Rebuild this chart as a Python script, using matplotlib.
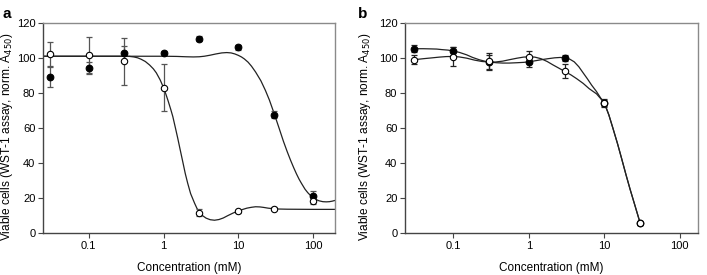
import numpy as np
import matplotlib as mpl
mpl.use('Agg')
import matplotlib.pyplot as plt

plt.rcParams['font.family'] = ['Liberation Sans', 'DejaVu Sans']

# concentrations (mM)
conc_a = [0.03, 0.1, 0.3, 1, 3, 10, 30, 100]
conc_b = [0.03, 0.1, 0.3, 1, 3, 10, 30]

# panel a, measured points
a_closed = [89.3, 94.5, 103, 103, 111, 106, 67.5, 21]
a_closed_err = [6, 3, 4, 1, 1.5, 1.5, 2, 3]
a_open = [102, 101.5, 98, 83, 11.5, 12.5, 14, 18.5]
a_open_err = [7, 10.5, 13.5, 13.5, 2, 0.8, 0.8, 2]

# panel a, fitted curves
a_closed_fit_x = [0.025, 1, 1.5, 2, 2.5, 3, 3.5, 4.2, 5, 6, 7, 8, 9, 10, 11, 12,
                  13.5, 15, 17, 20, 23, 26, 30, 35, 40, 45, 50, 55, 60, 65, 70,
                  78, 85, 92, 100, 110, 120, 135, 150, 165, 180, 200]
a_closed_fit_y = [101, 101, 100.9, 100.7, 100.6, 100.7, 101, 101.6, 102.3, 102.9,
                  103.1, 102.9, 102.3, 101.5, 100.6, 99.5, 97.6, 95.3, 92, 87,
                  81.5, 76, 68.5, 60, 52.5, 46.5, 41.5, 37.3, 33.7, 30.7, 28.3,
                  25, 23, 21.5, 20.3, 19.1, 18.4, 17.9, 17.8, 17.9, 18.2, 18.7]
a_open_fit_x = [0.025, 0.1, 0.2, 0.3, 0.35, 0.4, 0.45, 0.5, 0.57, 0.65, 0.73, 0.8,
                0.9, 1.0, 1.08, 1.15, 1.25, 1.33, 1.45, 1.55, 1.65, 1.8, 1.95,
                2.1, 2.3, 2.6, 2.8, 3.0, 3.3, 3.7, 4.2, 4.8, 5.5, 6.3, 7.2, 8.5,
                10, 11.5, 13, 15, 17, 19.5, 22, 25, 29, 35, 45, 100, 200]
a_open_fit_y = [101, 101, 101, 101, 100.9, 100.6, 100.1, 99.3, 98, 96, 93.8, 91.5,
                87.5, 83, 79, 75.5, 70.5, 66.5, 59.5, 54, 48.5, 41, 34, 28.5,
                22.5, 17, 14, 12.2, 10, 8.5, 7.6, 7.3, 7.7, 8.6, 9.9, 11.4, 12.6,
                13.5, 14.2, 14.7, 15, 14.9, 14.6, 14.2, 13.9, 13.7, 13.6, 13.5,
                13.5]

# panel b, measured points
b_closed = [105.3, 104, 97.5, 97.8, 100, 74.5, 5.5]
b_closed_err = [2, 2.5, 4, 3, 1.5, 2, 1]
b_open = [99, 100.8, 98, 100.8, 92.3, 74, 5.5]
b_open_err = [2.5, 5.5, 5, 3, 4, 2, 1]

# panel b, fitted curves
b_closed_fit_x = [0.03, 0.04, 0.05, 0.06, 0.07, 0.085, 0.1, 0.12, 0.15, 0.18,
                  0.22, 0.27, 0.3, 0.37, 0.45, 0.55, 0.7, 0.85, 1, 1.25, 1.5,
                  1.8, 2.2, 2.6, 3, 3.5, 4, 4.6, 5.25, 6, 6.8, 7.9, 9, 10, 11.5,
                  13, 15, 17, 19.5, 22, 25, 30]
b_closed_fit_y = [105.3, 105.3, 105.2, 105.1, 104.8, 104.5, 104, 103.2, 101.8,
                  100.3, 99, 98, 97.7, 97.3, 97.1, 97.1, 97.3, 97.5, 97.8, 98.5,
                  99.1, 99.6, 100.1, 100.3, 100.2, 99.3, 97.8, 95, 91.5, 88,
                  84.5, 80.8, 77, 74.5, 67.5, 60, 51, 42.5, 33, 25, 17, 5.5]
b_open_fit_x = [0.03, 0.04, 0.05, 0.065, 0.08, 0.1, 0.12, 0.15, 0.19, 0.24, 0.3,
                0.36, 0.45, 0.55, 0.7, 0.85, 1, 1.2, 1.45, 1.75, 2.1, 2.5, 3,
                3.6, 4.3, 5.25, 6.3, 7.9, 9, 10, 11.5, 13, 15, 17, 19.5, 22, 25,
                30]
b_open_fit_y = [99, 99.6, 100, 100.5, 100.8, 100.9, 100.6, 99.9, 98.8, 98, 97.7,
                97.7, 98.2, 99, 99.9, 100.5, 100.7, 100.5, 99.6, 98, 96, 94.2,
                92.3, 90.4, 88.2, 85.5, 82.5, 79.5, 76.7, 74.3, 67.5, 60, 51,
                42.5, 33, 25, 17, 5.5]

ylabel = 'Viable cells (WST-1 assay, norm. A$_{450}$)'


def style_axes(ax, xlim, ylab_x):
    ax.set_xscale('log')
    ax.set_xlim(*xlim)
    ax.set_ylim(0, 120)
    ax.set_yticks([0, 20, 40, 60, 80, 100, 120])
    ax.set_xticks([0.1, 1, 10, 100])
    ax.set_xticklabels(['0.1', '1', '10', '100'])
    ax.xaxis.set_minor_locator(mpl.ticker.NullLocator())
    ax.tick_params(axis='both', labelsize=8, length=3.5, width=0.8,
                   color='#444444', pad=2)
    for s in ['left', 'bottom']:
        ax.spines[s].set_color('#444444')
        ax.spines[s].set_linewidth(1.0)
    for s in ['top', 'right']:
        ax.spines[s].set_color('#8a8a8a')
        ax.spines[s].set_linewidth(1.0)
    ax.set_xlabel('Concentration (mM)', fontsize=8.5, labelpad=8)
    ax.set_ylabel(ylabel, fontsize=8.6)
    ax.yaxis.set_label_coords(ylab_x, 0.46)


def draw(ax, x, yc, ec, yo, eo, fxc, fyc, fxo, fyo, ecol):
    ax.plot(fxc, fyc, '-', color='#222222', linewidth=0.9, zorder=2)
    ax.plot(fxo, fyo, '-', color='#222222', linewidth=0.9, zorder=2)
    ax.errorbar(x, yc, yerr=ec, fmt='none', ecolor=ecol, elinewidth=0.9,
                capsize=2.5, capthick=0.9, zorder=3)
    ax.errorbar(x, yo, yerr=eo, fmt='none', ecolor=ecol, elinewidth=0.9,
                capsize=2.5, capthick=0.9, zorder=3)
    ax.plot(x, yc, 'o', color='black', markersize=4.8, markeredgewidth=0.8,
            zorder=4)
    ax.plot(x, yo, 'o', markerfacecolor='white', markeredgecolor='black',
            markersize=4.6, markeredgewidth=0.8, zorder=5)


fig = plt.figure(figsize=(7.07, 2.75), dpi=100)
ax1 = fig.add_axes([0.0608, 0.1527, 0.4130, 0.7637])
ax2 = fig.add_axes([0.5728, 0.1527, 0.4145, 0.7637])

draw(ax1, conc_a, a_closed, a_closed_err, a_open, a_open_err,
     a_closed_fit_x, a_closed_fit_y, a_open_fit_x, a_open_fit_y, '#555555')
draw(ax2, conc_b, b_closed, b_closed_err, b_open, b_open_err,
     b_closed_fit_x, b_closed_fit_y, b_open_fit_x, b_open_fit_y, '#222222')

style_axes(ax1, (0.0244, 196), -0.097)
style_axes(ax2, (0.0228, 175), -0.11)

fig.text(0.003, 0.975, 'a', fontsize=11, fontweight='bold', va='top')
fig.text(0.506, 0.975, 'b', fontsize=11, fontweight='bold', va='top')

fig.savefig('out.png', dpi=100)
